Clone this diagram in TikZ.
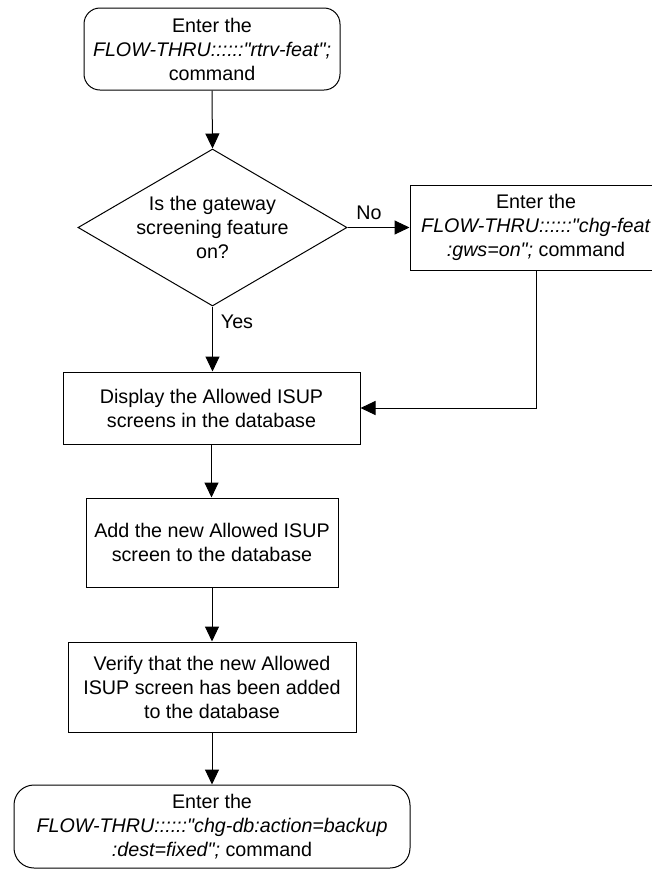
\documentclass[tikz,border=0pt]{standalone}
\usepackage{fontspec}
\setmainfont{Liberation Sans}[Ligatures=TeXOff]
\usetikzlibrary{shapes.geometric,arrows.meta}
\begin{document}
\begin{tikzpicture}[x=1pt,y=-1pt,
  base/.style={draw=black,line width=1pt,inner sep=0pt,align=center,
    font=\fontsize{19.7}{24}\selectfont,text=black},
  procbox/.style={base,rectangle},
  termbox/.style={base,rectangle,rounded corners=16pt},
  decbox/.style={base,diamond},
  lbl/.style={inner sep=0pt,font=\fontsize{19.7}{24}\selectfont},
  txt/.style={inner sep=0pt,align=center,font=\fontsize{19.7}{24}\selectfont},
  conn/.style={line width=1pt,-{Triangle[length=15pt,width=14pt]}}]
\useasboundingbox (0,0) rectangle (652,871);
\fill[white] (0,0) rectangle (652,871);

\node[termbox,minimum width=256pt,minimum height=82pt] (start) at (212,49)
  {Enter the\\\textit{FLOW-THRU::::::"rtrv-feat";}\\command};

\node[decbox,minimum width=269pt,minimum height=157pt] (dec) at (212.5,227.5) {};
\node[txt] (dectext) at (212.5,227.5) {Is the gateway\\screening feature\\on?};

\node[procbox,minimum width=252pt,minimum height=85pt] (feat) at (536,227.5)
  {Enter the\\\textit{FLOW-THRU::::::"chg-feat}\\\textit{:gws=on";} command};

\node[procbox,minimum width=297pt,minimum height=72pt] (disp) at (211.5,408)
  {Display the Allowed ISUP\\screens in the database};

\node[procbox,minimum width=252pt,minimum height=89pt] (add) at (212,542.5)
  {Add the new Allowed ISUP\\screen to the database};

\node[procbox,minimum width=288pt,minimum height=90pt] (ver) at (212,687)
  {Verify that the new Allowed\\ISUP screen has been added\\to the database};

\node[termbox,rounded corners=20pt,minimum width=396pt,minimum height=83pt] (fin) at (212,826.5)
  {Enter the\\\textit{FLOW-THRU::::::"chg-db:action=backup}\\\textit{:dest=fixed";} command};

\node[lbl] (no) at (369,213) {No};
\node[lbl] (yes) at (237,322) {Yes};

\draw[conn] (start.south) -- (dec.north);
\draw[conn] (dec.east) -- (feat.west);
\draw[conn] (dec.south) -- (dec.south |- disp.north);
\draw[conn] (feat.south) |- (disp.east);
\draw[conn] (disp.south) -- (disp.south |- add.north);
\draw[conn] (add.south) -- (ver.north);
\draw[conn] (ver.south) -- (fin.north);
\end{tikzpicture}
\end{document}
